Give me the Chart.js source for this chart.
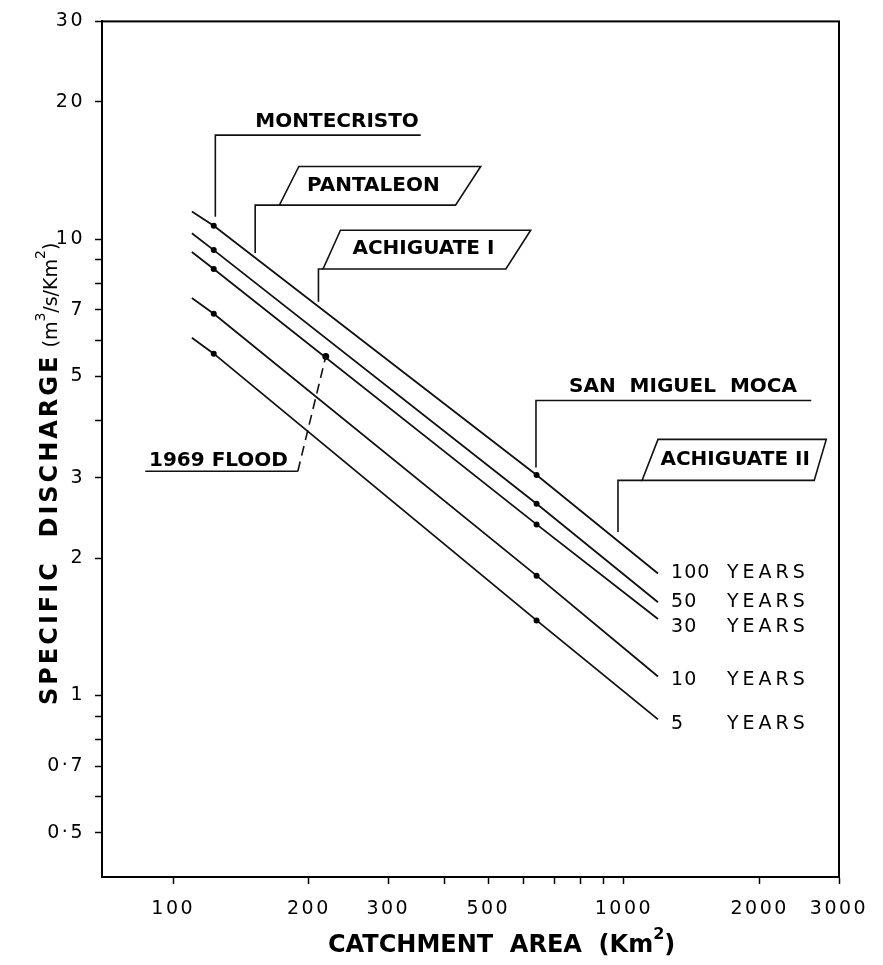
<!DOCTYPE html>
<html>
<head>
<meta charset="utf-8">
<title>Specific discharge - catchment area</title>
<script src="https://cdn.jsdelivr.net/npm/chart.js@4.4.1/dist/chart.umd.min.js"></script>
<style>
  html, body { margin: 0; padding: 0; background: #fff; }
  #wrap { width: 883px; height: 965px; }
</style>
</head>
<body>
<div id="wrap"><canvas id="myChart" width="883" height="965"></canvas></div>
<script>
// catchment area (Km2): start, two gauged stations, end
var areas = [110, 123, 640, 1190];

// specific discharge (m3/s/Km2) per return period
var q100 = [11.5, 10.7, 3.04, 1.85];
var q50  = [10.3, 9.46, 2.63, 1.60];
var q30  = [9.37, 8.60, 2.37, 1.47];
var q10  = [7.43, 6.86, 1.83, 1.10];
var q5   = [6.08, 5.61, 1.46, 0.886];

var periods = ['100', '50', '30', '10', '5'];
var periodLabelQ = [1.85, 1.60, 1.415, 1.08, 0.864];

// 1969 flood observation
var floodArea = [218];
var floodQ = [5.53];

// axis ticks
var xTickValues = [100, 200, 300, 400, 500, 600, 700, 800, 900, 1000, 2000, 3000];
var xTickLabels = ['100', '200', '300', '', '500', '', '', '', '', '1000', '2000', '3000'];
var yTickValues = [0.5, 0.6, 0.7, 0.8, 0.9, 1, 2, 3, 4, 5, 6, 7, 8, 9, 10, 20, 30];
var yTickLabels = ['0·5', '', '0·7', '', '', '1', '2', '3', '', '5', '', '7', '', '', '10', '20', '30'];

// station call-outs, all in data units [area, discharge]
var calloutText = ['MONTECRISTO', 'PANTALEON', 'ACHIGUATE I', 'SAN  MIGUEL  MOCA', 'ACHIGUATE II', '1969 FLOOD'];
var calloutAt = [[231, 18.1], [278, 13.1], [359, 9.5], [1352, 4.75], [1765, 3.28], [126, 3.27]];
var calloutLeader = [
  [[354, 16.9], [124, 16.9], [124, 11.2]],
  [[172, 11.87], [152, 11.87], [152, 9.32]],
  [[215, 8.6], [210, 8.6], [210, 7.29]],
  [[2604, 4.43], [638, 4.43], [638, 3.16]],
  [[1097, 2.96], [970, 2.96], [970, 2.28]],
  [[86.7, 3.10], [189, 3.10]]
];
var calloutBox = [
  null,
  [[190, 14.43], [481, 14.43], [423, 11.87], [172, 11.87]],
  [[235, 10.46], [621, 10.46], [547, 8.6], [215, 8.6]],
  null,
  [[1190, 3.64], [2811, 3.64], [2643, 2.96], [1097, 2.96]],
  null
];
var floodDash = [[189, 3.10], [218, 5.53]];
var labelNumArea = 1272, labelWordArea = 1692;

Chart.defaults.font.family = "'DejaVu Sans', sans-serif";
Chart.defaults.color = '#000';

function toPts(q) {
  return areas.map(function(a, i) { return {x: a, y: q[i]}; });
}

function curve(q) {
  return {
    data: toPts(q), showLine: true, borderColor: '#111', borderWidth: 1.8,
    pointRadius: [0, 3, 3, 0], pointBackgroundColor: '#000', pointBorderWidth: 0
  };
}

function pix(chart, p) {
  return [chart.scales.x.getPixelForValue(p[0]), chart.scales.y.getPixelForValue(p[1])];
}

function pathOf(ctx, chart, pts, close) {
  ctx.beginPath();
  for (var i = 0; i < pts.length; i++) {
    var p = pix(chart, pts[i]);
    if (i == 0) ctx.moveTo(p[0], p[1]); else ctx.lineTo(p[0], p[1]);
  }
  if (close) ctx.closePath();
  ctx.stroke();
}

// draw text pieces one after another (superscripts use rise)
function drawRuns(ctx, x, y, runs) {
  for (var i = 0; i < runs.length; i++) {
    var r = runs[i];
    ctx.font = r.font;
    ctx.letterSpacing = r.spacing || '0px';
    ctx.fillText(r.text, x, y - (r.rise || 0));
    x += ctx.measureText(r.text).width;
  }
  return x;
}

var decorate = {
  id: 'decorate',
  beforeDraw: function(chart) {
    // wide hand lettering on the tick labels
    chart.ctx.letterSpacing = '2.5px';
  },
  afterDatasetsDraw: function(chart) {
    var ctx = chart.ctx;
    ctx.save();
    ctx.strokeStyle = '#111';
    ctx.lineWidth = 1.6;
    ctx.fillStyle = '#000';
    for (var i = 0; i < calloutText.length; i++) {
      if (calloutBox[i]) pathOf(ctx, chart, calloutBox[i], true);
      pathOf(ctx, chart, calloutLeader[i], false);
      var t = pix(chart, calloutAt[i]);
      ctx.font = 'bold 20px "DejaVu Sans"';
      ctx.letterSpacing = '0px';
      ctx.textAlign = 'center';
      ctx.textBaseline = 'middle';
      ctx.fillText(calloutText[i], t[0], t[1]);
    }
    ctx.setLineDash([10, 6]);
    pathOf(ctx, chart, floodDash, false);
    ctx.setLineDash([]);

    // return period labels at the line ends
    ctx.textAlign = 'left';
    ctx.textBaseline = 'middle';
    ctx.font = '19px "DejaVu Sans"';
    for (var k = 0; k < periods.length; k++) {
      var y = chart.scales.y.getPixelForValue(periodLabelQ[k]);
      ctx.letterSpacing = '1px';
      ctx.fillText(periods[k], chart.scales.x.getPixelForValue(labelNumArea), y);
      ctx.letterSpacing = '4px';
      ctx.fillText('YEARS', chart.scales.x.getPixelForValue(labelWordArea), y);
    }
    ctx.restore();
  },
  afterDraw: function(chart) {
    var ctx = chart.ctx, ca = chart.chartArea;
    ctx.save();
    ctx.letterSpacing = '0px';
    // frame
    ctx.strokeStyle = '#000';
    ctx.lineWidth = 2;
    ctx.strokeRect(ca.left, ca.top, ca.right - ca.left, ca.bottom - ca.top);

    ctx.fillStyle = '#000';
    ctx.textAlign = 'left';
    ctx.textBaseline = 'alphabetic';
    // x title
    drawRuns(ctx, ca.left + 226, ca.bottom + 75, [
      {text: 'CATCHMENT  AREA  (Km', font: 'bold 24px "DejaVu Sans"'},
      {text: '2', font: 'bold 16px "DejaVu Sans"', rise: 13},
      {text: ')', font: 'bold 24px "DejaVu Sans"'}
    ]);
    // y title
    ctx.translate(ca.left - 45, ca.bottom - 172);
    ctx.rotate(-Math.PI / 2);
    drawRuns(ctx, 0, 0, [
      {text: 'SPECIFIC  DISCHARGE', font: 'bold 24px "DejaVu Sans"', spacing: '3px'},
      {text: ' (m', font: '19px "DejaVu Sans"'},
      {text: '3', font: '14px "DejaVu Sans"', rise: 12},
      {text: '/s/Km', font: '19px "DejaVu Sans"'},
      {text: '2', font: '14px "DejaVu Sans"', rise: 12},
      {text: ')', font: '19px "DejaVu Sans"'}
    ]);
    ctx.restore();
  }
};

var axisGrid = {display: true, drawOnChartArea: false, drawTicks: true, tickLength: 7,
                tickWidth: 1.5, tickColor: '#000'};

var ctx = document.getElementById('myChart').getContext('2d');
var myChart = new Chart(ctx, {
  type: 'scatter',
  data: {
    datasets: [
      curve(q100), curve(q50), curve(q30), curve(q10), curve(q5),
      { data: floodArea.map(function(a, i) { return {x: a, y: floodQ[i]}; }),
        pointRadius: 3.4, pointBackgroundColor: '#000', pointBorderWidth: 0 }
    ]
  },
  options: {
    responsive: false,
    animation: false,
    events: [],
    layout: { padding: { left: 0, top: 18, right: 44, bottom: 0 } },
    plugins: { legend: { display: false }, tooltip: { enabled: false } },
    scales: {
      x: {
        type: 'logarithmic', min: 69.5, max: 3000, bounds: 'data',
        grid: axisGrid,
        border: { display: true, color: '#000', width: 2 },
        ticks: {
          font: { size: 19 }, color: '#000', padding: 14, maxRotation: 0, autoSkip: false,
          callback: function(v) { var i = xTickValues.indexOf(v); return i < 0 ? '' : xTickLabels[i]; }
        },
        afterBuildTicks: function(scale) { scale.ticks = xTickValues.map(function(v) { return {value: v}; }); },
        afterFit: function(scale) { scale.height = 88; }
      },
      y: {
        type: 'logarithmic', min: 0.4, max: 30, bounds: 'data',
        grid: axisGrid,
        border: { display: true, color: '#000', width: 2 },
        ticks: {
          font: { size: 19 }, color: '#000', padding: 10, autoSkip: false,
          callback: function(v) { var i = yTickValues.indexOf(v); return i < 0 ? '' : yTickLabels[i]; }
        },
        afterBuildTicks: function(scale) { scale.ticks = yTickValues.map(function(v) { return {value: v}; }); },
        afterFit: function(scale) { scale.width = 102; }
      }
    }
  },
  plugins: [decorate]
});
</script>
</body>
</html>
